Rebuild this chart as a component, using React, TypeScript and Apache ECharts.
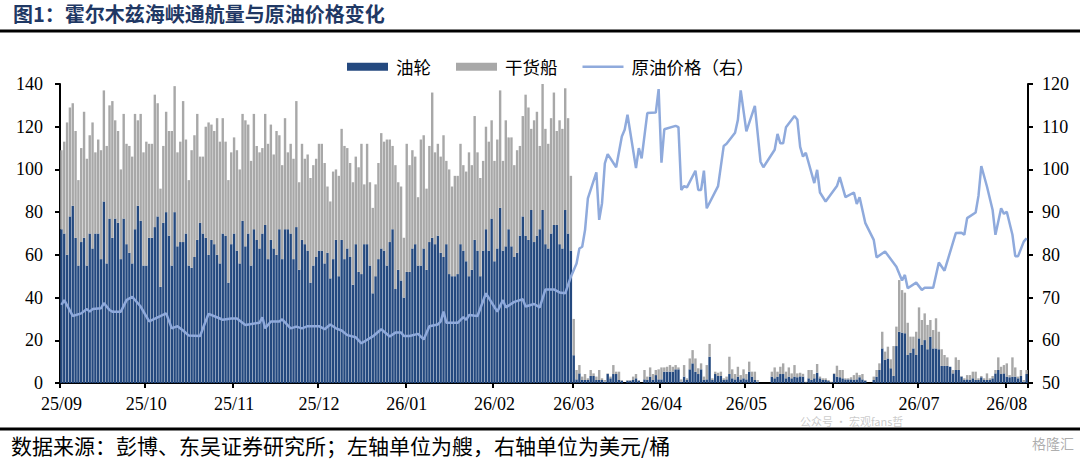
import React, { useEffect, useRef } from "react";
import * as echarts from "echarts";

// ---- tick labels / calendar ----
const monthLabels = ["25/09", "25/10", "25/11", "25/12", "26/01", "26/02", "26/03", "26/04", "26/05", "26/06", "26/07", "26/08"];
const monthDays = [30, 31, 30, 31, 31, 28, 31, 30, 31, 30, 31, 8];

// ---- 油轮 (daily vessel count) ----
const tankers: number[] = [
  // 25/09
  72, 70, 60, 78, 83, 68, 55, 66, 68, 55, 70, 63, 70, 70, 58, 85, 56, 77, 68, 77, 75, 58, 77, 65, 61, 56, 72, 83, 76, 55,
  // 25/10
  55, 68, 68, 73, 78, 45, 75, 80, 69, 55, 80, 64, 66, 66, 70, 55, 54, 59, 67, 75, 70, 68, 60, 67, 65, 60, 56, 70, 69, 47, 65,
  // 25/11
  70, 62, 56, 76, 64, 70, 55, 72, 67, 63, 70, 74, 58, 67, 63, 60, 72, 58, 72, 72, 70, 58, 73, 53, 67, 65, 62, 47, 55, 59,
  // 25/12
  62, 62, 56, 61, 49, 58, 67, 50, 67, 58, 63, 59, 46, 65, 52, 51, 65, 65, 55, 42, 50, 58, 63, 62, 55, 66, 72, 44, 53, 48, 40,
  // 26/01
  52, 52, 63, 65, 55, 55, 63, 53, 66, 68, 65, 69, 61, 59, 65, 51, 50, 50, 51, 65, 62, 57, 50, 53, 67, 62, 50, 62, 72, 62, 77,
  // 26/02
  57, 63, 82, 62, 64, 72, 64, 59, 61, 69, 78, 69, 67, 81, 66, 69, 72, 81, 65, 63, 70, 74, 74, 65, 63, 81, 70, 62,
  // 26/03
  13, 1.7, 4.5, 1.4, 1.4, 1.4, 3.3, 3.3, 1.4, 1.4, 1.4, 0.6, 4.2, 2.2, 4.2, 4.2, 1.4, 1.1, 0, 1.1, 1.1, 1.4, 2.2, 1.1, 0, 1.7, 1.4, 3.0, 1.4, 3.7, 1.7,
  // 26/04
  1.7, 5.3, 5.3, 5.3, 5.3, 6.4, 6.4, 0.6, 3.0, 1.4, 6.4, 9.2, 5.3, 4.2, 6.4, 1.4, 1.7, 12.3, 1.4, 4.2, 3.3, 3.3, 1.4, 1.7, 4.2, 2.2, 1.7, 3.0, 1.7, 2.2,
  // 26/05
  1.7, 5.3, 3.0, 1.4, 0.6, 0, 0, 0, 0, 3.0, 2.2, 3.0, 4.2, 4.2, 2.2, 3.0, 2.2, 3.0, 2.7, 3.1, 3.0, 0.3, 2.2, 1.4, 2.2, 4.8, 2.2, 1.4, 1.4, 0.9, 0.3,
  // 26/06
  4.2, 3.0, 2.7, 2.2, 1.7, 1.7, 1.7, 1.4, 1.7, 2.7, 1.7, 1.1, 0, 0, 1.4, 3.0, 6.1, 16.2, 10.8, 11.5, 6.9, 3.3, 17.3, 24.0, 23.6, 23.3, 13.1, 14.2, 16.2, 13.1,
  // 26/07
  20.9, 17.8, 20.1, 15.8, 21.7, 16.2, 16.2, 15.8, 8.0, 8.0, 8.0, 7.6, 4.5, 6.1, 6.1, 3.0, 1.4, 1.7, 1.4, 2.2, 1.4, 1.4, 2.7, 1.4, 1.4, 1.4, 2.2, 4.5, 6.1, 4.2, 4.5,
  // 26/08
  3.0, 2.7, 3.0, 3.0, 2.2, 3.3, 0.6, 4.2,
];

// ---- 干货船 (daily vessel count) ----
const dryBulk: number[] = [
  // 25/09
  37, 43, 62, 51, 48, 50, 40, 44, 59, 50, 46, 59, 38, 44, 51, 52, 55, 53, 64, 46, 43, 42, 49, 47, 50, 50, 54, 40, 50, 53,
  // 25/10
  58, 44, 44, 62, 53, 46, 36, 47, 49, 63, 59, 44, 47, 66, 44, 40, 55, 57, 59, 31, 36, 52, 62, 54, 53, 64, 57, 54, 44, 48, 43,
  // 25/11
  45, 47, 44, 50, 59, 51, 49, 54, 44, 45, 40, 52, 54, 54, 44, 58, 44, 44, 52, 36, 42, 47, 59, 41, 45, 40, 45, 49, 47, 46,
  // 25/12
  50, 50, 47, 31, 36, 41, 33, 47, 52, 53, 47, 44, 48, 41, 49, 61, 28, 47, 39, 40, 43, 45, 54, 51, 59, 48, 39, 58, 41, 44, 28,
  // 26/01
  60, 50, 46, 41, 32, 59, 53, 38, 45, 68, 43, 43, 45, 57, 39, 49, 42, 47, 46, 47, 40, 42, 58, 49, 58, 46, 46, 42, 48, 51, 46,
  // 26/02
  47, 51, 55, 42, 59, 43, 51, 43, 48, 42, 47, 66, 62, 38, 57, 58, 39, 60, 54, 49, 54, 62, 44, 58, 56, 57, 54, 35,
  // 26/03
  17, 4.4, 3.9, 1.6, 2.8, 0.8, 2.8, 1.2, 1.6, 4.7, 0.8, 0.8, 0.3, 0.8, 4.2, 1.1, 3.9, 0.3, 0, 0.3, 0.3, 1.6, 2.0, 0.3, 0, 4.4, 1.6, 4.3, 2.8, 2.4, 4.7,
  // 26/04
  5.6, 2.0, 2.3, 3.1, 2.3, 2.0, 0.9, 1.1, 5.4, 0.8, 5.1, 6.2, 6.2, 2.7, 2.8, 1.6, 6.7, 6.0, 0.8, 1.1, 1.5, 2.0, 0.8, 1.3, 8.1, 4.2, 2.5, 4.6, 2.0, 4.2,
  // 26/05
  2.5, 4.7, 2.3, 3.9, 0.8, 0, 0, 0, 0, 2.3, 5.1, 2.3, 3.4, 5.0, 3.1, 4.3, 2.3, 5.4, 1.8, 1.7, 1.3, 0.3, 3.9, 4.7, 2.0, 4.1, 0.8, 0.8, 0.8, 0.5, 0.3,
  // 26/06
  0.3, 5.1, 3.4, 3.9, 0.5, 0.5, 1.0, 2.3, 3.1, 1.0, 2.5, 0.3, 0, 0, 1.6, 3.1, 3.1, 7.8, 3.9, 5.5, 4.2, 14.0, 9.1, 24.2, 19.9, 19.0, 15.1, 7.5, 5.5, 10.9,
  // 26/07
  14.5, 11.7, 12.5, 11.4, 7.8, 8.6, 14.1, 8.2, 7.8, 5.1, 4.0, 0, 1.6, 5.9, 4.7, 0.3, 0.8, 2.0, 2.3, 3.1, 3.9, 0.8, 0.6, 0.8, 3.1, 0.8, 1.1, 1.6, 5.9, 3.4, 3.9,
  // 26/08
  6.2, 1.0, 9.0, 4.3, 0.8, 2.8, 0.8, 1.9,
];

// ---- 原油价格 (右轴, 美元/桶): day index since 25/09/01 and price ----
const priceDays: number[] = [
  0, 1, 4, 7, 9, 10, 11, 14, 15, 17, 18, 21, 23, 25, 28, 31, 37, 39, 41, 43, 45, 49, 50, 52, 56, 57,
  60, 62, 65, 70, 71, 72, 74, 77, 78, 81, 83, 85, 87, 91, 93, 95, 97, 99, 101, 104, 106, 110, 113, 116, 118, 120,
  121, 123, 126, 128, 130, 133, 134, 135, 136, 140, 142, 143, 144, 147, 150, 154, 156, 157, 160, 163, 164, 167,
  169, 171, 174, 176, 178, 180, 182, 183, 184, 185, 186, 189, 190, 191, 192, 193, 196, 198, 199, 200, 203, 204,
  205, 207, 210, 211, 212, 213, 217, 218, 219, 220, 221, 224, 225, 226, 227, 228, 232, 234, 235, 238, 239, 240,
  242, 245, 247, 248, 252, 253, 254, 255, 256, 259, 260, 261, 262, 263, 266, 267, 268, 270, 274, 275, 277, 280,
  281, 282, 284, 287, 288, 291, 295, 297, 298, 299, 302, 304, 305, 308, 310, 312, 316, 318, 319, 320, 323, 324,
  325, 327, 329, 330, 332, 333, 334, 336, 337, 338, 340, 341,
];
const priceValues: number[] = [
  68.3, 69.4, 65.7, 66.3, 67.3, 66.7, 67.3, 67.5, 68.7, 67.1, 66.7, 66.7, 69.4, 70.2, 67.9, 64.4, 66.3, 62.8, 63.3, 62.3, 61.1, 61.0, 62.8, 66.2, 65.1, 64.8,
  65.1, 65.1, 63.6, 64.1, 65.4, 62.8, 64.4, 64.4, 64.9, 62.8, 63.2, 62.8, 63.3, 63.3, 62.6, 63.7, 62.8, 62.3, 61.2, 60.7, 59.3, 60.9, 62.6, 60.9, 61.8, 61.8,
  61.0, 61.0, 61.5, 60.2, 63.3, 63.7, 64.4, 66.7, 64.1, 64.1, 65.4, 64.8, 65.9, 65.7, 71.0, 66.7, 69.4, 67.7, 69.0, 69.6, 67.9, 68.5,
  67.7, 71.9, 71.9, 71.2, 71.0, 74.9, 78.0, 81.5, 81.9, 85.8, 93.2, 99.3, 88.2, 92.1, 101.4, 103.6, 100.5, 107.7, 109.3, 112.8, 100.3, 105.0,
  102.6, 113.2, 113.3, 118.8, 101.6, 109.4, 110.2, 109.9, 95.2, 96.1, 95.8, 99.7, 95.2, 95.2, 99.7, 90.9, 96.1, 105.5, 106.0, 108.6, 111.6, 118.5,
  108.9, 114.9, 101.8, 100.5, 104.6, 108.3, 106.1, 106.1, 109.9, 112.5, 111.7, 105.3, 103.0, 103.9, 96.8, 99.9, 94.6, 92.5, 96.1, 98.2, 93.5, 94.6,
  91.9, 93.5, 87.5, 83.5, 79.4, 80.8, 77.2, 74.0, 75.3, 72.2, 73.5, 71.8, 72.3, 72.3, 78.2, 76.3, 85.1, 85.2, 84.7, 88.6, 89.9, 93.8,
  100.8, 96.0, 90.5, 84.7, 90.9, 89.6, 90.1, 84.7, 79.7, 79.7, 83.1, 83.9,
];

const TITLE = "图1：霍尔木兹海峡通航量与原油价格变化";
const SOURCE = "数据来源：彭博、东吴证券研究所；左轴单位为艘，右轴单位为美元/桶";
const WATERMARK = "公众号 · 宏观fans哲";
const LOGO = "格隆汇";

const SERIF = "'Liberation Serif', 'Times New Roman', serif";
const CJK = "'Noto Sans CJK SC', sans-serif";

export default function App() {
  const ref = useRef<HTMLDivElement>(null);

  useEffect(() => {
    if (!ref.current) return;
    const chart = echarts.init(ref.current, undefined, { renderer: "svg" });

    const categories: string[] = [];
    const monthStarts = new Set<number>();
    monthLabels.forEach((m, mi) => {
      for (let d = 1; d <= monthDays[mi]; d++) {
        if (d === 1) monthStarts.add(categories.length);
        categories.push(`${m}/${String(d).padStart(2, "0")}`);
      }
    });

    const price: (number | null)[] = categories.map(() => null);
    priceDays.forEach((d, i) => {
      price[d] = priceValues[i];
    });

    const showAt = (idx: number) => monthStarts.has(idx);

    chart.setOption({
      animation: false,
      backgroundColor: "#ffffff",
      grid: { left: 60, right: 52, top: 84, bottom: 76, containLabel: false },
      legend: {
        left: 347,
        top: 58,
        padding: 0,
        itemWidth: 41,
        itemHeight: 8,
        itemGap: 25,
        textStyle: { fontFamily: CJK, fontSize: 17.5, color: "#000", padding: [0, 0, 0, 3] },
        data: [
          { name: "油轮", icon: "rect" },
          { name: "干货船", icon: "rect" },
          { name: "原油价格（右）", icon: "path://M0,0H41V2.6H0Z" },
        ],
      },
      xAxis: {
        type: "category",
        data: categories,
        boundaryGap: true,
        axisLine: { lineStyle: { color: "#000", width: 2 } },
        axisTick: { show: true, interval: showAt, length: 5, lineStyle: { color: "#000", width: 2 } },
        axisLabel: {
          interval: showAt,
          formatter: (v: string) => v.slice(0, 5),
          fontFamily: SERIF,
          fontSize: 18,
          color: "#000",
          margin: 12,
        },
        splitLine: { show: false },
      },
      yAxis: [
        {
          type: "value",
          min: 0,
          max: 140,
          interval: 20,
          axisLine: { show: true, lineStyle: { color: "#000", width: 2 } },
          axisTick: { show: true, length: 5, lineStyle: { color: "#000", width: 2 } },
          axisLabel: { fontFamily: SERIF, fontSize: 18, color: "#000", margin: 17 },
          splitLine: { show: false },
        },
        {
          type: "value",
          min: 50,
          max: 120,
          interval: 10,
          position: "right",
          axisLine: { show: true, lineStyle: { color: "#000", width: 2 } },
          axisTick: { show: true, length: 5, lineStyle: { color: "#000", width: 2 } },
          axisLabel: { fontFamily: SERIF, fontSize: 18, color: "#000", margin: 14 },
          splitLine: { show: false },
        },
      ],
      series: [
        {
          name: "油轮",
          type: "bar",
          stack: "ships",
          data: tankers,
          barCategoryGap: "15%",
          itemStyle: { color: "#24497F" },
        },
        {
          name: "干货船",
          type: "bar",
          stack: "ships",
          data: dryBulk,
          barCategoryGap: "15%",
          itemStyle: { color: "#A8A8A8" },
        },
        {
          name: "原油价格（右）",
          type: "line",
          yAxisIndex: 1,
          data: price,
          connectNulls: true,
          symbol: "none",
          showSymbol: false,
          z: 5,
          lineStyle: { color: "#8FAADC", width: 2.5 },
          itemStyle: { color: "#8FAADC" },
        },
      ],
      graphic: [
        {
          type: "text",
          x: 13,
          y: 13,
          style: {
            text: TITLE,
            fontFamily: CJK,
            fontSize: 20,
            fontWeight: "bold",
            fill: "#1F3864",
            textVerticalAlign: "middle",
            verticalAlign: "middle",
          },
        },
        {
          type: "rect",
          shape: { x: 0, y: 29.5, width: 1080, height: 3 },
          style: { fill: "#000" },
        },
        {
          type: "rect",
          shape: { x: 0, y: 427.5, width: 1080, height: 3 },
          style: { fill: "#000" },
        },
        {
          type: "text",
          left: 11,
          top: 434,
          style: { text: SOURCE, fontFamily: CJK, fontSize: 21, fill: "#000" },
        },
        {
          type: "text",
          left: 800,
          top: 415,
          style: { text: WATERMARK, fontFamily: CJK, fontSize: 11, fill: "rgba(150,150,150,0.5)" },
        },
        {
          type: "text",
          left: 1032,
          top: 436,
          style: { text: LOGO, fontFamily: CJK, fontSize: 14, fill: "rgba(120,120,120,0.6)" },
        },
      ],
    });

    return () => chart.dispose();
  }, []);

  return (
    <div
      ref={ref}
      style={{ position: "absolute", left: 0, top: 0, width: 1080, height: 459, background: "#fff" }}
    />
  );
}
